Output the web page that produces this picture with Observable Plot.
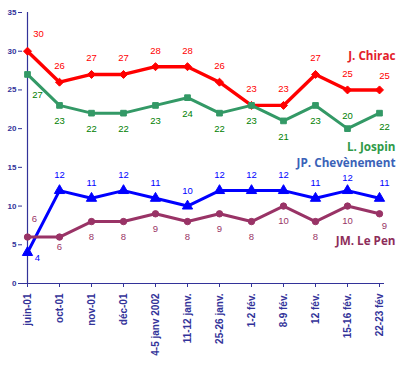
<!DOCTYPE html>
<html>
<head>
<meta charset="utf-8">
<script src="https://cdn.jsdelivr.net/npm/d3@7"></script>
<script src="https://cdn.jsdelivr.net/npm/@observablehq/plot@0.6"></script>
<style>
  html, body { margin: 0; padding: 0; background: #fff; }
</style>
</head>
<body>
<div id="chart"></div>
<script>
const categories = ["juin-01", "oct-01", "nov-01", "déc-01", "4-5 janv 2002", "11-12 janv.", "25-26 janv.", "1-2 fév.", "8-9 fév.", "12 fév.", "15-16 fév.", "22-23 fév"];
const seriesNames = ["J. Chirac", "L. Jospin", "JP. Chevènement", "JM. Le Pen"];
const chirac      = [30, 26, 27, 27, 28, 28, 26, 23, 23, 27, 25, 25];
const jospin      = [27, 23, 22, 22, 23, 24, 22, 23, 21, 23, 20, 22];
const chevenement = [4, 12, 11, 12, 11, 10, 12, 12, 12, 11, 12, 11];
const lepen       = [6, 6, 8, 8, 9, 8, 9, 8, 10, 8, 10, 9];
const yTicks = [0, 5, 10, 15, 20, 25, 30, 35];

// styling per series (kept in code)
const series = [
  {name: seriesNames[0], values: chirac, line: "#ff0000", label: "#ff0000", legend: "#e3202a", symbol: "diamond2", r: 3.6, sw: 3.4, dy: -16, first: [11, -17], lastDy: -14, legendY: 29.4, over: {}},
  {name: seriesNames[1], values: jospin, line: "#339966", label: "#008000", legend: "#2f9a48", symbol: "square", r: 3.2, sw: 3, dy: 16, first: [10, 21], lastDy: 14, legendY: 17.6, over: {10: -13}},
  {name: seriesNames[2], values: chevenement, line: "#0000ff", label: "#0000ff", legend: "#3a62b8", symbol: "triangle", r: 3.8, sw: 3, dy: -15.5, first: [10, 5], lastDy: -15.5, legendY: 15.5, over: {10: -13}},
  {name: seriesNames[3], values: lepen, line: "#993366", label: "#993366", legend: "#8e2d5a", symbol: "circle", r: 3.2, sw: 3, dy: 15, first: [7, -18], lastDy: 12, legendY: 5.4, over: {1: 10}}
];

const last = categories.length - 1;
const marks = [];

series.forEach(s => {
  const rows = s.values.map((v, i) => ({cat: categories[i], v, i}));
  marks.push(Plot.line(rows, {x: "cat", y: "v", stroke: s.line, strokeWidth: s.sw, strokeLinejoin: "round"}));
  marks.push(Plot.dot(rows, {x: "cat", y: "v", symbol: () => s.symbol, r: s.r, fill: s.line, stroke: s.line, strokeWidth: 1}));
  const textOpts = {x: "cat", y: "v", text: d => String(d.v), fill: s.label, fontSize: 9.5, fontFamily: "Liberation Sans"};
  marks.push(Plot.text(rows.filter(d => d.i === 0), {...textOpts, dx: s.first[0], dy: s.first[1]}));
  marks.push(Plot.text(rows.filter(d => d.i > 0 && d.i < last && !(d.i in s.over)), {...textOpts, dy: s.dy}));
  Object.entries(s.over).forEach(([k, dy]) => {
    marks.push(Plot.text(rows.filter(d => d.i === +k), {...textOpts, dy}));
  });
  marks.push(Plot.text(rows.filter(d => d.i === last), {...textOpts, dx: 5, dy: s.lastDy}));
  marks.push(Plot.text([s.name], {frameAnchor: "right", y: () => s.legendY, text: d => d, textAnchor: "end", dx: 11, fill: s.legend, fontSize: 11.7, fontWeight: "bold", fontFamily: "Open Sans"}));
});

const chart = Plot.plot({
  width: 402,
  height: 367,
  marginLeft: 22,
  marginRight: 18,
  marginTop: 12,
  marginBottom: 84,
  style: {fontFamily: "Liberation Sans", color: "#333399", background: "#fff", overflow: "visible"},
  x: {type: "point", domain: categories, padding: 0},
  y: {domain: [0, 35]},
  marks: [
    Plot.axisY(yTicks, {tickSize: 4, tickPadding: 2, fontWeight: "bold", fontSize: 8, label: null}),
    Plot.axisX({tickSize: 4, tickRotate: -90, tickPadding: 6, fontWeight: "bold", fontSize: 10, label: null}),
    Plot.ruleX([categories[0]], {y1: 0, y2: 35, stroke: "#333399", strokeWidth: 1.2}),
    Plot.ruleY([0], {stroke: "#333399", strokeWidth: 1.2}),
    ...marks
  ]
});
document.getElementById("chart").appendChild(chart);
</script>
</body>
</html>
